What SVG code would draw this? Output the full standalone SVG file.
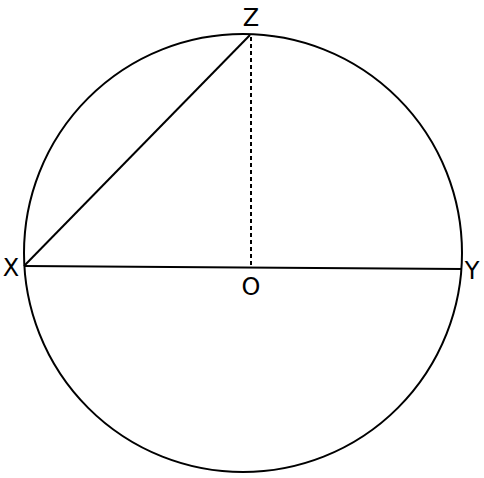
<svg xmlns="http://www.w3.org/2000/svg" width="484" height="478" viewBox="0 0 484 478">
<style>
.ln{fill:none;stroke:#000;stroke-width:2}
.dot{fill:none;stroke:#000;stroke-width:2;stroke-dasharray:4 3}
.lbl{font-family:"DejaVu Sans",sans-serif;font-size:24px;fill:#000;text-anchor:middle}
</style>
<rect width="484" height="478" fill="#fff"/>
<g id="circle"><circle class="ln" cx="243" cy="253" r="219"/></g>
<g id="connectors">
<line class="ln" x1="24" y1="266" x2="462" y2="269"/>
<line class="ln" x1="24" y1="266" x2="250" y2="35"/>
<line class="dot" x1="251" y1="37" x2="251" y2="266"/>
</g>
<g id="X"><text class="lbl" x="11" y="276">X</text></g>
<g id="Y"><text class="lbl" x="472" y="279">Y</text></g>
<g id="Z"><text class="lbl" x="251" y="26">Z</text></g>
<g id="O"><text class="lbl" x="251" y="295">O</text></g>
</svg>
